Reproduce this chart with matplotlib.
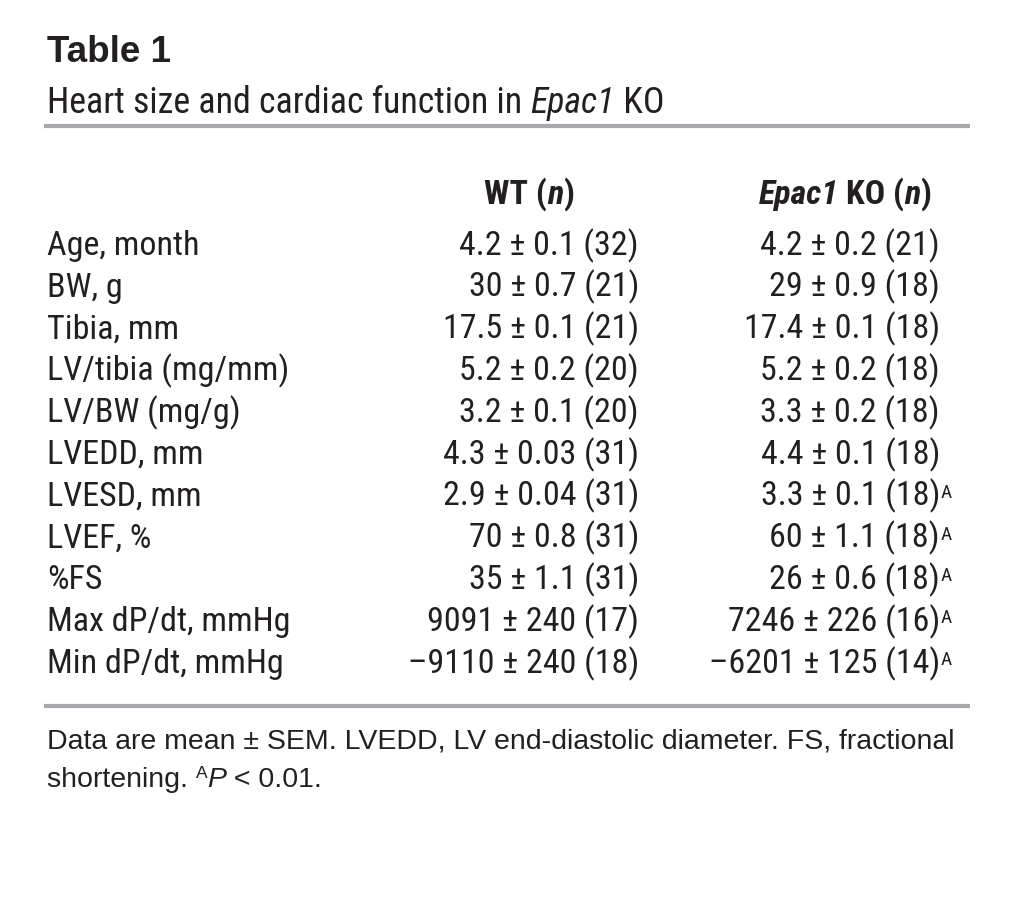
import matplotlib
matplotlib.use("Agg")
import matplotlib.pyplot as plt
from matplotlib import font_manager

# table content
row_labels = ["Age, month", "BW, g", "Tibia, mm", "LV/tibia (mg/mm)", "LV/BW (mg/g)",
              "LVEDD, mm", "LVESD, mm", "LVEF, %", "%FS", "Max dP/dt, mmHg",
              "Min dP/dt, mmHg"]
wt_mean = ["4.2", "30", "17.5", "5.2", "3.2", "4.3", "2.9", "70", "35", "9091", "\u20139110"]
wt_sem = ["0.1", "0.7", "0.1", "0.2", "0.1", "0.03", "0.04", "0.8", "1.1", "240", "240"]
wt_n = [32, 21, 21, 20, 20, 31, 31, 31, 31, 17, 18]
ko_mean = ["4.2", "29", "17.4", "5.2", "3.3", "4.4", "3.3", "60", "26", "7246", "\u20136201"]
ko_sem = ["0.2", "0.9", "0.1", "0.2", "0.2", "0.1", "0.1", "1.1", "0.6", "226", "125"]
ko_n = [21, 18, 18, 18, 18, 18, 18, 18, 18, 16, 14]
ko_sig = [False, False, False, False, False, False, True, True, True, True, True]


def pick(names):
    for nm in names:
        try:
            font_manager.findfont(nm, fallback_to_default=False)
            return nm
        except Exception:
            pass
    return "DejaVu Sans"


narrow = pick(["Roboto Condensed", "Liberation Sans Narrow", "Roboto"])
wide = pick(["Liberation Sans", "DejaVu Sans"])
INK = "#231f20"

W, H = 1018, 914
fig = plt.figure(figsize=(W / 100, H / 100), dpi=100)
ax = fig.add_axes([0, 0, 1, 1])
ax.set_xlim(0, W)
ax.set_ylim(H, 0)
ax.axis("off")
renderer = fig.canvas.get_renderer()

ROW = 24.5
SUP = 14


def run(pieces, x, y, ha="left", family=narrow):
    # pieces: (text, weight, style, raise_px, size), laid out one after another
    objs = []
    cx = x
    for txt, wt, st, up, sz in pieces:
        t = ax.text(cx, y - up, txt, fontsize=sz, fontweight=wt, fontstyle=st,
                    family=family, ha="left", va="baseline", color=INK)
        cx += t.get_window_extent(renderer).width
        objs.append(t)
    shift = {"left": 0, "center": (cx - x) / 2, "right": cx - x}[ha]
    for t in objs:
        px, py = t.get_position()
        t.set_position((px - shift, py))
    return objs


# title block
ax.text(47, 62, "Table 1", fontsize=26.5, fontweight="bold", family=wide,
        va="baseline", color=INK)
SUB = 25.8
run([("Heart size and cardiac function in ", "normal", "normal", 0, SUB),
     ("Epac1", "normal", "italic", 0, SUB),
     (" KO", "normal", "normal", 0, SUB)], 47, 113)
ax.hlines([126, 706], 44, 970, color="#a7a9ac", lw=3)

# header
run([("WT (", "bold", "normal", 0, ROW), ("n", "bold", "italic", 0, ROW),
     (")", "bold", "normal", 0, ROW)], 529, 204, ha="center")
run([("Epac1", "bold", "italic", 0, ROW), (" KO (", "bold", "normal", 0, ROW),
     ("n", "bold", "italic", 0, ROW), (")", "bold", "normal", 0, ROW)],
    845, 204, ha="center")

y0, dy = 255, 41.8
for i, lab in enumerate(row_labels):
    y = y0 + i * dy
    ax.text(47, y, lab, fontsize=ROW, family=narrow, va="baseline", color=INK)
    ax.text(639, y, f"{wt_mean[i]} \u00b1 {wt_sem[i]} ({wt_n[i]})", fontsize=ROW,
            family=narrow, ha="right", va="baseline", color=INK)
    ax.text(940, y, f"{ko_mean[i]} \u00b1 {ko_sem[i]} ({ko_n[i]})", fontsize=ROW,
            family=narrow, ha="right", va="baseline", color=INK)
    if ko_sig[i]:
        ax.text(941, y - 8, "A", fontsize=SUP, family=narrow, ha="left",
                va="baseline", color=INK)

# footnote
FN = 20.5
ax.text(47, 748, "Data are mean \u00b1 SEM. LVEDD, LV end-diastolic diameter. FS, fractional",
        fontsize=FN, family=wide, va="baseline", color=INK)
run([("shortening. ", "normal", "normal", 0, FN), ("A", "normal", "normal", 9, 12.5),
     ("P", "normal", "italic", 0, FN), (" < 0.01.", "normal", "normal", 0, FN)],
    47, 787, family=wide)

fig.savefig("out.png", dpi=100, facecolor="white")
